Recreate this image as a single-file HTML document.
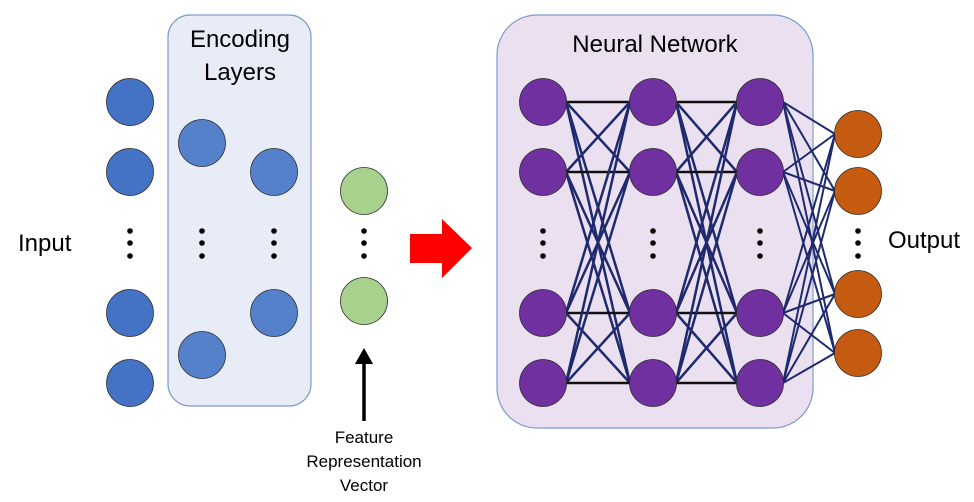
<!DOCTYPE html>
<html><head><meta charset="utf-8"><style>
html,body{margin:0;padding:0;background:#fff;}
svg{display:block;}
text{font-family:"Liberation Sans","DejaVu Sans",sans-serif;fill:#000;}
</style></head><body>
<svg id="s" width="974" height="502" viewBox="0 0 974 502" xmlns="http://www.w3.org/2000/svg">
<rect x="168" y="15" width="143" height="391" rx="22" fill="#e7ecf7" stroke="#7d9bcc" stroke-width="1.2"/>
<rect x="497" y="15" width="316" height="413" rx="40" fill="#eae0f0" stroke="#7d9bcc" stroke-width="1.2"/>
<text x="240" y="47" font-size="24" text-anchor="middle">Encoding</text>
<text x="240" y="80" font-size="24" text-anchor="middle">Layers</text>
<text x="655" y="52" font-size="24" text-anchor="middle">Neural Network</text>
<text x="18" y="251" font-size="24">Input</text>
<text x="888" y="248" font-size="24">Output</text>
<text x="364" y="443" font-size="17" text-anchor="middle">Feature</text>
<text x="364" y="467" font-size="17" text-anchor="middle">Representation</text>
<text x="364" y="491" font-size="17" text-anchor="middle">Vector</text>
<line x1="364" y1="421" x2="364" y2="360" stroke="#000" stroke-width="3.5"/>
<polygon points="364,348 355,364 373,364" fill="#000"/>
<polygon points="410,234 442,234 442,219 472,248 442,278 442,263 410,263" fill="#ff0000"/>
<g id="lines"></g>
<g id="nodes"></g>
</svg>
<script>
var ns="http://www.w3.org/2000/svg";
var L=document.getElementById("lines"),N=document.getElementById("nodes");
function c(x,y,f){var e=document.createElementNS(ns,"circle");e.setAttribute("cx",x);e.setAttribute("cy",y);e.setAttribute("r",23.5);e.setAttribute("fill",f);e.setAttribute("stroke","#2b2b2b");e.setAttribute("stroke-width","0.8");N.appendChild(e);}
function l(x1,y1,x2,y2,col,w){var e=document.createElementNS(ns,"line");e.setAttribute("x1",x1);e.setAttribute("y1",y1);e.setAttribute("x2",x2);e.setAttribute("y2",y2);e.setAttribute("stroke",col);e.setAttribute("stroke-width",w);L.appendChild(e);}
function d(x){[231,243,256].forEach(function(y){var e=document.createElementNS(ns,"circle");e.setAttribute("cx",x);e.setAttribute("cy",y);e.setAttribute("r",2.8);e.setAttribute("fill","#000");N.appendChild(e);});}
var Y=[102,172,313,383];
Y.forEach(function(y){c(130,y,"#4472c4");});d(130);
[143,355].forEach(function(y){c(202,y,"#5580ca");});d(202);
[172,313].forEach(function(y){c(274,y,"#5580ca");});d(274);
[191,301].forEach(function(y){c(364,y,"#a9d18e");});d(364);
var X=[543,653,760];
for(var k=0;k<2;k++){Y.forEach(function(a){Y.forEach(function(b){l(X[k]+23,a,X[k+1]-23,b,a==b?"#111":"#1f2a6e",2.5);});});}
var O=[134,191,294,353];
Y.forEach(function(a){O.forEach(function(b){l(783,a,835,b,"#1f2a6e",2);});});
X.forEach(function(x){Y.forEach(function(y){c(x,y,"#7030a0");});d(x);});
O.forEach(function(y){c(858,y,"#c55a11");});d(858);
</script>
</body></html>
